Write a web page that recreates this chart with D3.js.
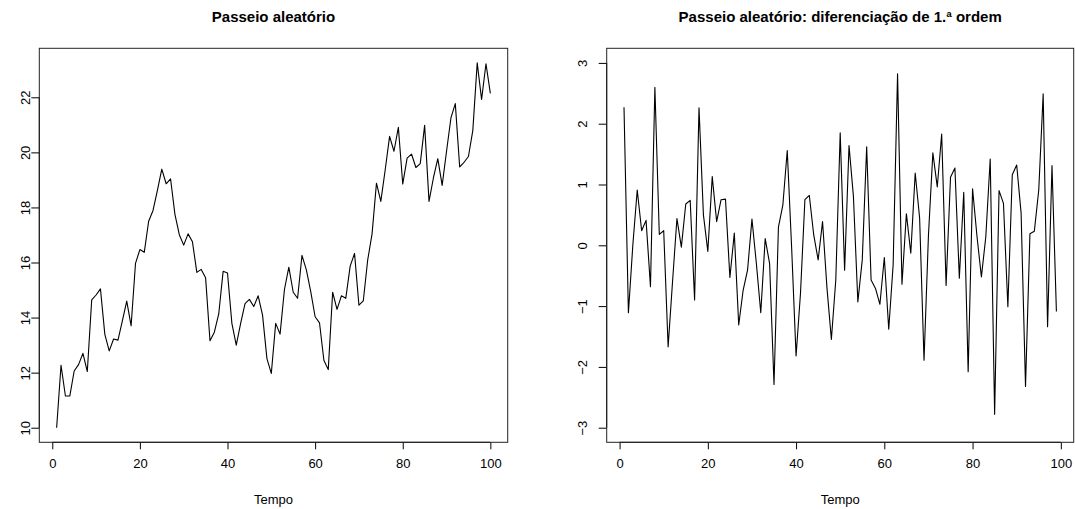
<!DOCTYPE html>
<html>
<head>
<meta charset="utf-8">
<script src="https://cdn.jsdelivr.net/npm/d3@7"></script>
<style>
  body { margin: 0; background: #fff; }
  text { font-family: "Liberation Sans", Arial, Helvetica, sans-serif; fill: #000; }
</style>
</head>
<body>
<div id="chart"></div>
<script>
var svgWidth = 1075;
var svgHeight = 509;

// passeio aleatório (t = 1..100)
var passeio = [
	10.0, 12.27, 11.15, 11.15, 12.06, 12.29, 12.7, 12.04, 14.64, 14.82,
	15.04, 13.39, 12.79, 13.22, 13.18, 13.88, 14.6, 13.7, 15.97, 16.47,
	16.37, 17.5, 17.89, 18.62, 19.39, 18.86, 19.04, 17.75, 17.01, 16.63,
	17.04, 16.75, 15.64, 15.75, 15.45, 13.16, 13.47, 14.13, 15.68, 15.62,
	13.79, 13.0, 13.79, 14.51, 14.66, 14.4, 14.79, 14.09, 12.51, 11.97,
	13.79, 13.4, 15.02, 15.83, 14.92, 14.7, 16.26, 15.73, 14.94, 14.03,
	13.81, 12.45, 12.11, 14.92, 14.3, 14.79, 14.7, 15.87, 16.33, 14.45,
	14.61, 16.09, 17.04, 18.88, 18.22, 19.37, 20.58, 20.04, 20.91, 18.85,
	19.79, 19.94, 19.45, 19.59, 20.98, 18.22, 19.07, 19.77, 18.8, 20.04,
	21.25, 21.77, 19.47, 19.64, 19.85, 20.8, 23.25, 21.92, 23.22, 22.14
];

// diferenciação de 1.ª ordem (t = 1..99)
var diferenca = [
	2.27, -1.11, 0.0, 0.91, 0.24, 0.41, -0.68, 2.6, 0.18, 0.24,
	-1.67, -0.6, 0.44, -0.03, 0.68, 0.74, -0.9, 2.26, 0.5, -0.1,
	1.13, 0.39, 0.75, 0.76, -0.53, 0.2, -1.31, -0.74, -0.41, 0.43,
	-0.3, -1.11, 0.11, -0.3, -2.29, 0.3, 0.66, 1.56, -0.05, -1.82,
	-0.79, 0.75, 0.82, 0.17, -0.24, 0.39, -0.7, -1.55, -0.57, 1.85,
	-0.41, 1.64, 0.8, -0.93, -0.24, 1.62, -0.57, -0.71, -0.97, -0.2,
	-1.38, -0.32, 2.82, -0.64, 0.52, -0.13, 1.19, 0.45, -1.89, 0.16,
	1.52, 0.96, 1.83, -0.66, 1.12, 1.27, -0.54, 0.87, -2.08, 0.93,
	0.15, -0.52, 0.14, 1.42, -2.78, 0.9, 0.69, -1.01, 1.16, 1.32,
	0.53, -2.32, 0.19, 0.23, 0.91, 2.49, -1.34, 1.31, -1.09
];

var xTicks = [0, 20, 40, 60, 80, 100];
var yTicksPasseio = [10, 12, 14, 16, 18, 20, 22];
var yTicksDiferenca = [-3, -2, -1, 0, 1, 2, 3];

var svg = d3.select("#chart")
	.append("svg")
	.attr("width", svgWidth)
	.attr("height", svgHeight);

function painel(opts) {
	var valores = opts.valores;
	var n = valores.length;
	var top = 48.3, bottom = 442.3;

	// como no R: 4% de folga em cada lado
	var x = d3.scaleLinear()
		.domain([1 - 0.04 * (n - 1), n + 0.04 * (n - 1)])
		.range([opts.left, opts.right]);

	var y = d3.scaleLinear()
		.domain(opts.yDomain)
		.range([bottom, top]);

	var g = svg.append("g");

	// eixo x
	var gx = g.append("g")
		.attr("transform", "translate(0," + bottom + ")")
		.call(d3.axisBottom(x).tickValues(xTicks).tickSize(7).tickPadding(9));
	gx.select(".domain").remove();
	gx.selectAll("text").style("font-size", "13px");
	gx.append("line")
		.attr("x1", x(xTicks[0]))
		.attr("x2", x(xTicks[xTicks.length - 1]))
		.attr("stroke", "#000");

	// eixo y (rótulos paralelos ao eixo)
	var gy = g.append("g")
		.attr("transform", "translate(" + opts.left + ",0)")
		.call(d3.axisLeft(y).tickValues(opts.yTicks).tickSize(8)
			.tickFormat(function(d) { return d < 0 ? "\u2212" + Math.abs(d) : d; }));
	gy.select(".domain").remove();
	gy.selectAll("text")
		.style("font-size", "13px")
		.attr("x", 0)
		.attr("dy", "0.35em")
		.attr("text-anchor", "middle")
		.attr("transform", "translate(" + opts.labelOffset + ",0) rotate(-90)");
	gy.append("line")
		.attr("y1", y(opts.yTicks[0]))
		.attr("y2", y(opts.yTicks[opts.yTicks.length - 1]))
		.attr("stroke", "#000");

	// caixa
	g.append("rect")
		.attr("x", opts.left)
		.attr("y", top)
		.attr("width", opts.right - opts.left)
		.attr("height", bottom - top)
		.attr("fill", "none")
		.attr("stroke", "#222")
		.attr("stroke-width", 1);

	var line = d3.line()
		.x(function(d, i) { return x(i + 1); })
		.y(function(d) { return y(d); });

	g.append("path")
		.datum(valores)
		.attr("fill", "none")
		.attr("stroke", "#000")
		.attr("stroke-width", 1.1)
		.attr("stroke-linejoin", "round")
		.attr("d", line);

	var cx = (opts.left + opts.right) / 2;

	g.append("text")
		.attr("x", cx)
		.attr("y", 17)
		.attr("dy", "0.35em")
		.attr("text-anchor", "middle")
		.style("font-size", "15px")
		.style("font-weight", "bold")
		.text(opts.titulo);

	g.append("text")
		.attr("x", cx)
		.attr("y", 499)
		.attr("dy", "0.35em")
		.attr("text-anchor", "middle")
		.style("font-size", "13px")
		.text("Tempo");
}

painel({
	valores: passeio,
	left: 39.3, right: 507.7,
	yDomain: [9.47, 23.78],
	yTicks: yTicksPasseio,
	labelOffset: -14.3,
	titulo: "Passeio aleatório"
});

painel({
	valores: diferenca,
	left: 606.7, right: 1073.7,
	yDomain: [-3.24, 3.24],
	yTicks: yTicksDiferenca,
	labelOffset: -24,
	titulo: "Passeio aleatório: diferenciação de 1.ª ordem"
});
</script>
</body>
</html>
